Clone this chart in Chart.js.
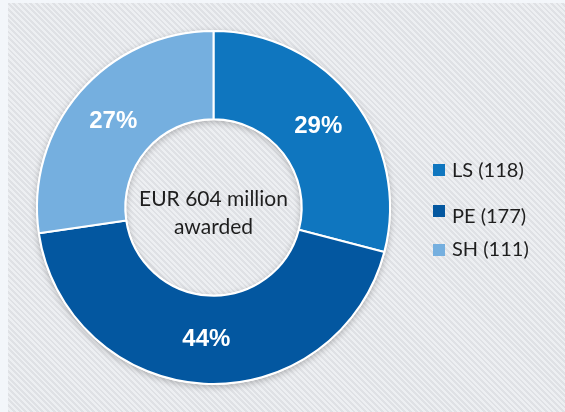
<!DOCTYPE html>
<html>
<head>
<meta charset="utf-8">
<script src="https://cdn.jsdelivr.net/npm/chart.js@4.4.1/dist/chart.umd.min.js"></script>
<style>
  html, body { margin: 0; padding: 0; background: #f3f6fa; }
  #wrap {
    position: relative;
    width: 565px;
    height: 412px;
    overflow: hidden;
  }
  #panel {
    position: absolute;
    left: 8px;
    top: 3px;
    right: 0;
    bottom: 0;
    background: repeating-linear-gradient(45deg, #dfe1e5 0px, #dfe1e5 2px, #edeff2 2px, #edeff2 4px);
  }
  #chart { position: absolute; left: 0; top: 0; }
</style>
</head>
<body>
<div id="wrap">
  <div id="panel"></div>
  <canvas id="chart" width="565" height="412"></canvas>
</div>
<script>
// data
const categories = ["LS", "PE", "SH"];
const counts = [118, 177, 111];
const shares = ["29%", "44%", "27%"];
const colors = ["#0f76bf", "#0357a0", "#75afdf"];
const centerLines = ["EUR 604 million", "awarded"];

// legend rows sit at uneven heights in the original
const legendRows = [171, 217, 250];
const legendBoxTop = [164, 205, 244];

const labelsPlugin = {
  id: "sliceLabels",
  afterDatasetsDraw(chart) {
    const ctx = chart.ctx;
    const meta = chart.getDatasetMeta(0);
    ctx.save();
    ctx.fillStyle = "#ffffff";
    ctx.font = "bold 24px 'Liberation Sans', Arial, sans-serif";
    ctx.textAlign = "center";
    ctx.textBaseline = "middle";
    meta.data.forEach((arc, i) => {
      const pos = arc.tooltipPosition();
      ctx.fillText(shares[i], pos.x, pos.y);
    });

    // centre text
    const first = meta.data[0];
    ctx.fillStyle = "#1e1e1e";
    ctx.font = "21px Lato, 'Open Sans', sans-serif";
    ctx.fillText(centerLines[0], first.x, first.y - 8);
    ctx.fillText(centerLines[1], first.x, first.y + 20);

    // legend on the right
    ctx.textAlign = "left";
    ctx.font = "20px Lato, 'Open Sans', sans-serif";
    categories.forEach((cat, i) => {
      ctx.fillStyle = colors[i];
      ctx.fillRect(433, legendBoxTop[i], 12, 12);
      ctx.fillStyle = "#1e1e1e";
      ctx.fillText(`${cat} (${counts[i]})`, 452, legendRows[i]);
    });
    ctx.restore();
  }
};

// soft shadow under the ring
const shadowPlugin = {
  id: "ringShadow",
  beforeDatasetsDraw(chart) {
    const ctx = chart.ctx;
    const arc = chart.getDatasetMeta(0).data[0];
    ctx.save();
    ctx.shadowColor = "rgba(0,0,0,0.25)";
    ctx.shadowBlur = 6;
    ctx.shadowOffsetY = 2;
    ctx.fillStyle = "#ffffff";
    ctx.beginPath();
    ctx.arc(arc.x, arc.y, arc.outerRadius + 1, 0, Math.PI * 2);
    ctx.arc(arc.x, arc.y, arc.innerRadius - 1, 0, Math.PI * 2, true);
    ctx.fill();
    ctx.restore();
  }
};

new Chart(document.getElementById("chart"), {
  type: "doughnut",
  data: {
    labels: categories,
    datasets: [
      {
        data: counts,
        backgroundColor: colors,
        borderColor: "#ffffff",
        borderWidth: 2
      }
    ]
  },
  options: {
    responsive: false,
    animation: false,
    cutout: "50%",
    layout: {
      padding: { left: 36, top: 30, right: 174, bottom: 27 }
    },
    plugins: {
      legend: { display: false },
      tooltip: { enabled: false }
    }
  },
  plugins: [shadowPlugin, labelsPlugin]
});
</script>
</body>
</html>
